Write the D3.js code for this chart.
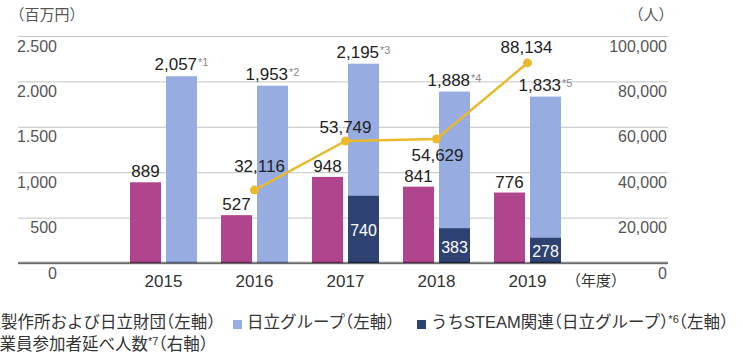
<!DOCTYPE html>
<html>
<head>
<meta charset="utf-8">
<script src="https://cdn.jsdelivr.net/npm/d3@7"></script>
<style>
  html, body { margin: 0; padding: 0; background: #fff; overflow: hidden; }
  svg { display: block; font-family: "Liberation Sans", "Noto Sans CJK JP", sans-serif; }
  .jp { font-family: "Noto Sans CJK JP", "Liberation Sans", sans-serif; }
  .legend { font-family: "Liberation Sans", "Noto Sans CJK JP", sans-serif; }
  .paren { font-feature-settings: "halt"; }
</style>
</head>
<body>
<svg id="chart" width="743" height="360"></svg>
<script>
// Fiscal years
const years = ["2015", "2016", "2017", "2018", "2019"];
// Hitachi, Ltd. and Hitachi Foundation (million yen, left axis)
const hitachiLtd = [889, 527, 948, 841, 776];
// Hitachi Group (million yen, left axis)
const hitachiGroup = [2057, 1953, 2195, 1888, 1833];
const groupNotes = ["*1", "*2", "*3", "*4", "*5"];
// of which STEAM-related (million yen, left axis)
const steam = [null, null, 740, 383, 278];
// Cumulative employee participants (persons, right axis)
const participants = [null, 32116, 53749, 54629, 88134];

const leftTicks = [0, 500, 1000, 1500, 2000, 2500];
const leftTickLabels = ["0", "500", "1,000", "1.500", "2.000", "2.500"];
const rightTicks = [0, 20000, 40000, 60000, 80000, 100000];
const rightTickLabels = ["0", "20,000", "40,000", "60,000", "80,000", "100,000"];

// label placement for the participant values, relative to each point
const participantLabelDx = [0, 5, 0, 1, -1];
const participantLabelDy = [0, -18, -8, 22, -10];

const colors = {
  ltd: "#b0458e",
  group: "#97ade2",
  steam: "#2e4272",
  line: "#e9b92e",
  grid: "#c4c4c4",
  tick: "#555",
  label: "#222",
  note: "#888"
};

// Japanese text with half-width brackets
function jpText(sel, str) {
  str.split(/([（）])/).filter(s => s.length).forEach(s => {
    const t = sel.append("tspan").text(s);
    if (s === "（" || s === "）") t.attr("class", "paren");
  });
  return sel;
}

const svg = d3.select("#chart");
const plotLeft = 18, plotRight = 668, plotTop = 36, plotBottom = 263;

const x = d3.scaleBand().domain(years).range([118, 573]);
const xs = d3.scaleBand().domain(["ltd", "group"]).range([12, 79]).paddingInner(0.139);
const yL = d3.scaleLinear().domain([0, 2500]).range([plotBottom, plotTop]);
const yR = d3.scaleLinear().domain([0, 100000]).range([plotBottom, plotTop]);

// Left axis: gridlines plus labels sitting just below each line
const gL = svg.append("g").attr("transform", `translate(${plotLeft},0)`)
  .call(d3.axisRight(yL).tickValues(leftTicks)
    .tickFormat((d, i) => leftTickLabels[i]).tickSize(plotRight - plotLeft));
gL.select(".domain").remove();
gL.selectAll(".tick line").attr("stroke", colors.grid);
gL.selectAll(".tick text")
  .attr("x", 39).attr("dy", 15).attr("text-anchor", "end")
  .attr("fill", colors.tick).attr("font-size", 16)
  .attr("font-family", "Liberation Sans, sans-serif");

// Right axis labels
const gR = svg.append("g").attr("transform", `translate(${plotRight},0)`)
  .call(d3.axisLeft(yR).tickValues(rightTicks)
    .tickFormat((d, i) => rightTickLabels[i]).tickSize(0));
gR.select(".domain").remove();
gR.selectAll(".tick line").remove();
gR.selectAll(".tick text")
  .attr("x", -1).attr("dy", 15).attr("text-anchor", "end")
  .attr("fill", colors.tick).attr("font-size", 16)
  .attr("font-family", "Liberation Sans, sans-serif");

// Unit labels
jpText(svg.append("text").attr("class", "jp").attr("x", 17).attr("y", 20)
  .attr("font-size", 15).attr("fill", colors.tick), "（百万円）");
jpText(svg.append("text").attr("class", "jp").attr("x", 666).attr("y", 20)
  .attr("text-anchor", "end").attr("font-size", 15).attr("fill", colors.tick), "（人）");

// Bottom axis: year labels
const gX = svg.append("g").attr("transform", `translate(0,${plotBottom})`)
  .call(d3.axisBottom(x).tickSize(0));
gX.select(".domain").remove();
gX.selectAll(".tick text")
  .attr("dy", 0).attr("y", 24)
  .attr("fill", "#333").attr("font-size", 17)
  .attr("font-family", "Liberation Sans, sans-serif");
jpText(svg.append("text").attr("class", "jp").attr("x", 596).attr("y", 286)
  .attr("text-anchor", "middle").attr("font-size", 15).attr("fill", "#333"), "（年度）");

const rows = years.map((y, i) => ({
  year: y, ltd: hitachiLtd[i], group: hitachiGroup[i], note: groupNotes[i],
  steam: steam[i], people: participants[i], i
}));

// Bars
const bars = svg.append("g");
bars.selectAll("rect.ltd").data(rows).join("rect").attr("class", "ltd")
  .attr("x", d => x(d.year) + xs("ltd")).attr("width", xs.bandwidth())
  .attr("y", d => yL(d.ltd)).attr("height", d => yL(0) - yL(d.ltd))
  .attr("fill", colors.ltd);
bars.selectAll("rect.group").data(rows).join("rect").attr("class", "group")
  .attr("x", d => x(d.year) + xs("group")).attr("width", xs.bandwidth())
  .attr("y", d => yL(d.group)).attr("height", d => yL(0) - yL(d.group))
  .attr("fill", colors.group);
bars.selectAll("rect.steam").data(rows.filter(d => d.steam != null)).join("rect").attr("class", "steam")
  .attr("x", d => x(d.year) + xs("group")).attr("width", xs.bandwidth())
  .attr("y", d => yL(d.steam)).attr("height", d => yL(0) - yL(d.steam))
  .attr("fill", colors.steam);

// Baseline drawn over the bars
svg.append("line").attr("x1", plotLeft).attr("x2", plotRight)
  .attr("y1", plotBottom).attr("y2", plotBottom)
  .attr("stroke", "#000").attr("stroke-opacity", 0.45).attr("stroke-width", 2.5);

// Value labels
const labels = svg.append("g").attr("font-family", "Liberation Sans, sans-serif");
labels.selectAll("text.ltd").data(rows).join("text").attr("class", "ltd")
  .attr("x", d => x(d.year) + xs("ltd") + xs.bandwidth() / 2)
  .attr("y", d => yL(d.ltd) - 5)
  .attr("text-anchor", "middle").attr("font-size", 17).attr("fill", colors.label)
  .text(d => d3.format(",")(d.ltd));
const gt = labels.selectAll("text.group").data(rows).join("text").attr("class", "group")
  .attr("x", d => x(d.year) + xs("group") + xs.bandwidth() / 2)
  .attr("y", d => yL(d.group) - 6)
  .attr("text-anchor", "middle").attr("font-size", 17).attr("fill", colors.label);
gt.append("tspan").text(d => d3.format(",")(d.group));
gt.append("tspan").attr("font-size", 11).attr("dy", -4).attr("dx", 1).attr("fill", colors.note)
  .text(d => d.note);
labels.selectAll("text.steam").data(rows.filter(d => d.steam != null)).join("text").attr("class", "steam")
  .attr("x", d => x(d.year) + xs("group") + xs.bandwidth() / 2)
  .attr("y", d => (yL(d.steam) + yL(0)) / 2 + 7)
  .attr("text-anchor", "middle").attr("font-size", 16).attr("fill", "#fff")
  .text(d => d3.format(",")(d.steam));

// Participants line
const pts = rows.filter(d => d.people != null);
const cx = d => x(d.year) + x.bandwidth() / 2;
svg.append("path").datum(pts)
  .attr("fill", "none").attr("stroke", colors.line).attr("stroke-width", 2.5)
  .attr("d", d3.line().x(cx).y(d => yR(d.people)));
svg.append("g").selectAll("circle").data(pts).join("circle")
  .attr("cx", cx).attr("cy", d => yR(d.people)).attr("r", 4.5).attr("fill", colors.line);
labels.selectAll("text.people").data(pts).join("text").attr("class", "people")
  .attr("x", d => cx(d) + participantLabelDx[d.i])
  .attr("y", d => yR(d.people) + participantLabelDy[d.i])
  .attr("text-anchor", "middle").attr("font-size", 17).attr("fill", colors.label)
  .text(d => d3.format(",")(d.people));

// Legend
const legend = svg.append("g").attr("class", "legend").attr("font-size", 16.5).attr("fill", "#333");
const legendItems = [
  { x: -46, y: 328, type: "rect", color: colors.ltd, text: "日立製作所および日立財団（左軸）" },
  { x: 233, y: 328, type: "rect", color: colors.group, text: "日立グループ（左軸）" },
  { x: 417, y: 328, type: "rect", color: colors.steam, text: "うちSTEAM関連（日立グループ）", note: "*6", tail: "（左軸）" },
  { x: -41, y: 350, type: "line", color: colors.line, text: "従業員参加者延べ人数", note: "*7", tail: "（右軸）" }
];
legendItems.forEach(it => {
  const g = legend.append("g");
  if (it.type === "rect") {
    g.append("rect").attr("x", it.x).attr("y", it.y - 8).attr("width", 9).attr("height", 9).attr("fill", it.color);
  } else {
    g.append("line").attr("x1", it.x).attr("x2", it.x + 20).attr("y1", it.y - 5).attr("y2", it.y - 5)
      .attr("stroke", it.color).attr("stroke-width", 2.5);
    g.append("circle").attr("cx", it.x + 10).attr("cy", it.y - 5).attr("r", 4).attr("fill", it.color);
  }
  const t = g.append("text").attr("x", it.type === "rect" ? it.x + 14 : it.x + 24).attr("y", it.y);
  jpText(t, it.text);
  if (it.note) {
    t.append("tspan").attr("font-size", 11).attr("dy", -5).text(it.note);
    const tail = t.append("tspan").attr("dy", 5);
    jpText(tail, it.tail);
  }
});
</script>
</body>
</html>
